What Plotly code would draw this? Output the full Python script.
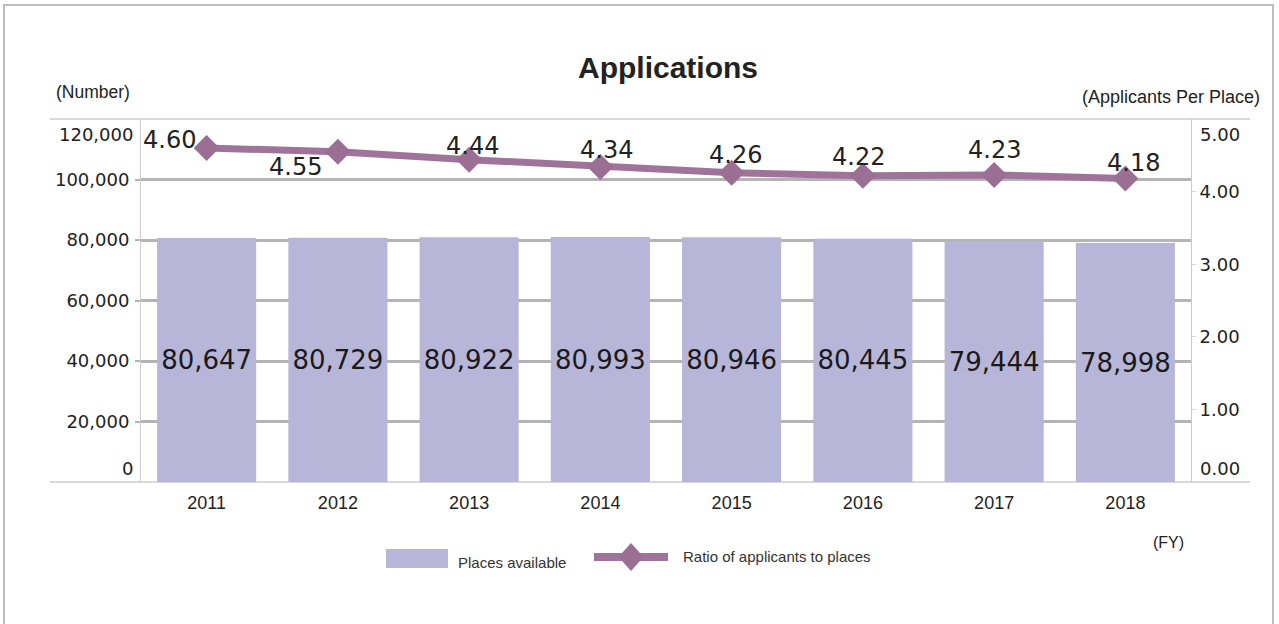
import plotly.graph_objects as go

years = ["2011", "2012", "2013", "2014", "2015", "2016", "2017", "2018"]
places = [80647, 80729, 80922, 80993, 80946, 80445, 79444, 78998]
ratio = [4.60, 4.55, 4.44, 4.34, 4.26, 4.22, 4.23, 4.18]
left_ticks = [0, 20000, 40000, 60000, 80000, 100000, 120000]
right_ticks = [0, 1, 2, 3, 4, 5]
# label offsets (px) for ratio labels, relative to each marker
ratio_dx = [-37, -42, 3, 6, 4, -4, 0, 8]
ratio_dy = [8, -15, 14, 17, 18, 19, 25, 16]

W, H = 1279, 624
L, R, T, B = 141, 1191, 119, 482
pw, ph = R - L, B - T

def px(x):
    return (x - L) / pw

def py(y):
    return (B - y) / ph

BAR_C = "#b7b6d8"
LINE_C = "#a0749a"
MARK_C = "#9b6e94"
GRID_C = "#b4b4b4"
BOX_C = "#cccccc"
TXT = "#222222"

fig = go.Figure()
fig.add_trace(go.Bar(
    x=years, y=places, marker=dict(color=BAR_C, line=dict(width=0)),
    text=[f"{v:,}" for v in places], textposition="inside",
    insidetextanchor="middle", constraintext="none",
    textfont=dict(family="DejaVu Sans", size=26, color="#1a1a1a"),
    showlegend=False, hoverinfo="x+y",
))
fig.add_trace(go.Scatter(
    x=years, y=ratio, yaxis="y2", mode="lines+markers",
    line=dict(color=LINE_C, width=7),
    marker=dict(symbol="diamond", size=20, color=MARK_C),
    showlegend=False,
))

mid_left = left_ticks[1:-1]
mid_right = right_ticks[1:-1]
fig.update_layout(
    width=W, height=H,
    margin=dict(l=L, r=W - R, t=T, b=H - B),
    paper_bgcolor="white", plot_bgcolor="white",
    bargap=0.245,
    title=dict(text="<b>Applications</b>", x=668 / W, xref="container",
               y=1 - 67 / H, yref="container", xanchor="center", yanchor="middle",
               font=dict(family="Liberation Sans", size=30, color=TXT)),
    xaxis=dict(type="category", showgrid=False, showline=False, ticks="",
               ticklabelstandoff=8,
               tickfont=dict(family="Liberation Sans", size=18, color=TXT),
               range=[-0.5, 7.5]),
    yaxis=dict(range=[0, 120000], tickvals=mid_left,
               ticktext=[f"{v:,}" for v in mid_left],
               showgrid=True, gridcolor=GRID_C, gridwidth=2.5, zeroline=False,
               showline=True, linecolor=BOX_C, linewidth=1,
               ticks="outside", ticklen=5, tickcolor=GRID_C, tickwidth=2,
               ticklabelstandoff=2,
               tickfont=dict(family="DejaVu Sans", size=18, color=TXT)),
    yaxis2=dict(range=[0, 5], overlaying="y", side="right", tickvals=mid_right,
                ticktext=[f"{v:.2f}" for v in mid_right],
                showgrid=False, zeroline=False,
                showline=True, linecolor=BOX_C, linewidth=1,
                ticks="outside", ticklen=4, tickcolor="#d6d6d6", tickwidth=1,
                tickfont=dict(family="DejaVu Sans", size=18, color=TXT)),
)

ann = []
# extreme tick labels drawn slightly inward, as in the original
ann.append(dict(x=0, xref="paper", y=left_ticks[-1], yref="y", text=f"{left_ticks[-1]:,}",
                xanchor="right", yanchor="middle", xshift=-6, yshift=-15, showarrow=False,
                font=dict(family="DejaVu Sans", size=18, color=TXT)))
ann.append(dict(x=0, xref="paper", y=left_ticks[0], yref="y", text=f"{left_ticks[0]:,}",
                xanchor="right", yanchor="middle", xshift=-6, yshift=14, showarrow=False,
                font=dict(family="DejaVu Sans", size=18, color=TXT)))
ann.append(dict(x=1, xref="paper", y=right_ticks[-1], yref="y2", text=f"{right_ticks[-1]:.2f}",
                xanchor="left", yanchor="middle", xshift=7, yshift=-15, showarrow=False,
                font=dict(family="DejaVu Sans", size=18, color=TXT)))
ann.append(dict(x=1, xref="paper", y=right_ticks[0], yref="y2", text=f"{right_ticks[0]:.2f}",
                xanchor="left", yanchor="middle", xshift=7, yshift=14, showarrow=False,
                font=dict(family="DejaVu Sans", size=18, color=TXT)))
# ratio labels
for i, (v, dx, dy) in enumerate(zip(ratio, ratio_dx, ratio_dy)):
    ann.append(dict(x=i, xref="x", y=v, yref="y2", text=f"{v:.2f}", showarrow=False,
                    xanchor="center", yanchor="middle", xshift=dx, yshift=dy,
                    font=dict(family="DejaVu Sans", size=24, color=TXT)))
# axis titles
ann.append(dict(x=px(54), y=py(92), xref="paper", yref="paper", text="(Number)",
                xanchor="left", yanchor="middle", showarrow=False,
                font=dict(family="Liberation Sans", size=17.5, color=TXT)))
ann.append(dict(x=px(1262), y=py(97), xref="paper", yref="paper", text="(Applicants Per Place)",
                xanchor="right", yanchor="middle", showarrow=False,
                font=dict(family="Liberation Sans", size=18, color=TXT)))
ann.append(dict(x=px(1168), y=py(542), xref="paper", yref="paper", text="(FY)",
                xanchor="center", yanchor="middle", showarrow=False,
                font=dict(family="Liberation Sans", size=16, color=TXT)))
# legend texts
ann.append(dict(x=px(456), y=py(562), xref="paper", yref="paper", text="Places available",
                xanchor="left", yanchor="middle", showarrow=False,
                font=dict(family="Liberation Sans", size=15, color="#333333")))
ann.append(dict(x=px(681), y=py(556), xref="paper", yref="paper", text="Ratio of applicants to places",
                xanchor="left", yanchor="middle", showarrow=False,
                font=dict(family="Liberation Sans", size=15, color="#333333")))

shapes = []
# outer frame
shapes.append(dict(type="rect", xref="paper", yref="paper", x0=px(4), x1=px(1273),
                   y0=py(660), y1=py(5), line=dict(color="#bdbdbd", width=2), layer="below"))
# top and bottom box lines
for yy in (1, 0):
    shapes.append(dict(type="line", xref="paper", yref="paper", x0=px(50), x1=px(1250),
                       y0=yy, y1=yy, line=dict(color=BOX_C, width=1.5), layer="below"))
# legend swatches
shapes.append(dict(type="rect", xref="paper", yref="paper", x0=px(386), x1=px(448),
                   y0=py(568), y1=py(549), fillcolor=BAR_C, line=dict(width=0)))
shapes.append(dict(type="line", xref="paper", yref="paper", x0=px(594), x1=px(668),
                   y0=py(557), y1=py(557), line=dict(color=LINE_C, width=8)))
cx, cy = px(631), py(557)
dxp, dyp = 12.5 / pw, 14 / ph
shapes.append(dict(type="path", xref="paper", yref="paper",
                   path=f"M {cx - dxp},{cy} L {cx},{cy + dyp} L {cx + dxp},{cy} L {cx},{cy - dyp} Z",
                   fillcolor=MARK_C, line=dict(width=0)))

fig.update_layout(annotations=ann, shapes=shapes)
fig.write_html("out.html", config={"displayModeBar": False},
               post_script="document.body.style.margin='0px';document.body.style.overflow='hidden';")
